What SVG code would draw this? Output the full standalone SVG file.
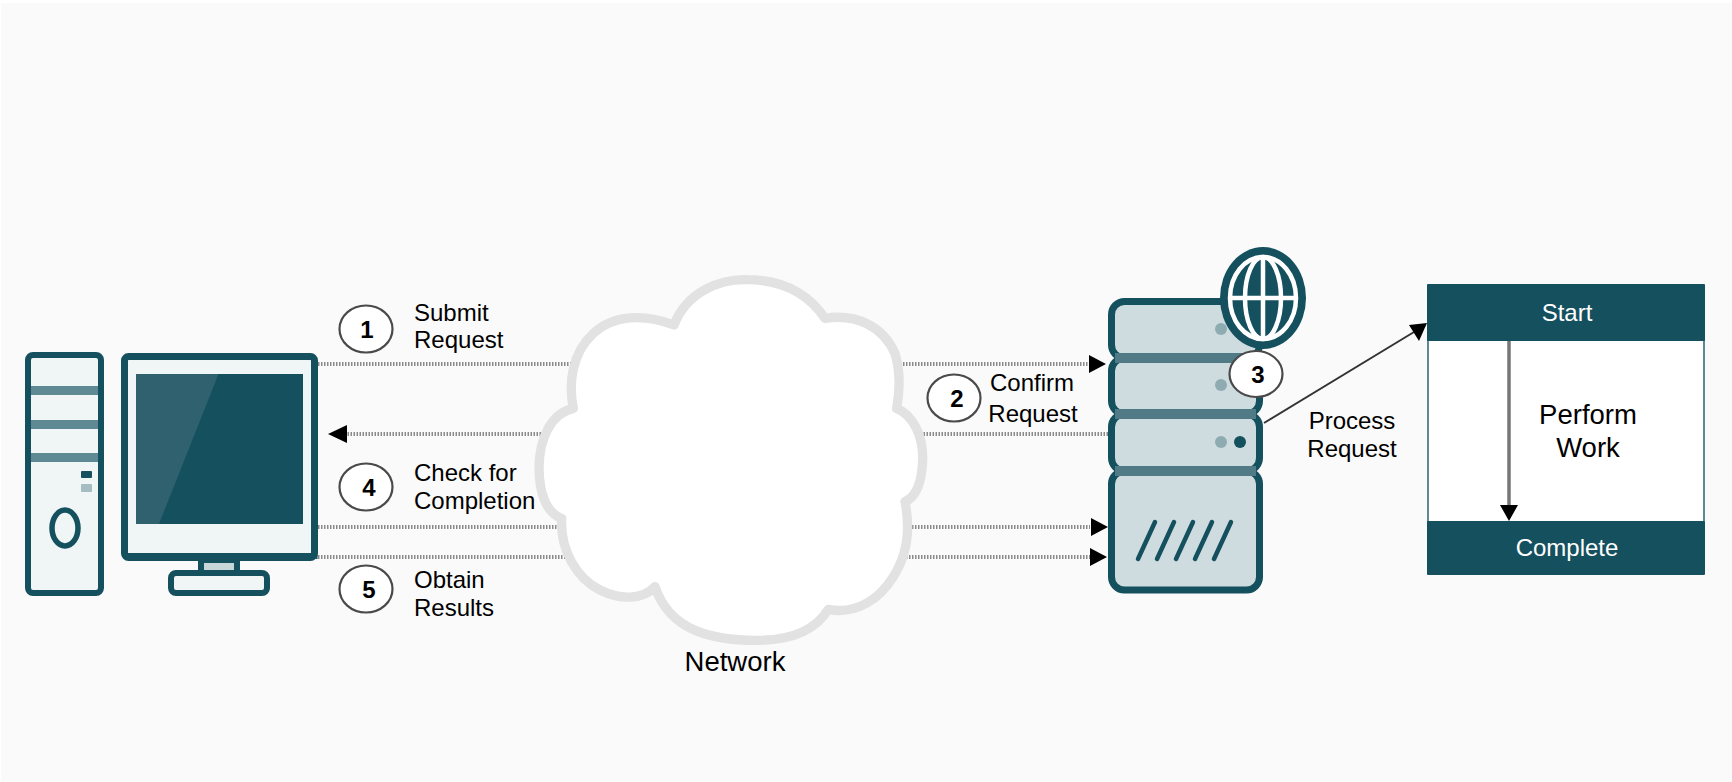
<svg xmlns="http://www.w3.org/2000/svg" width="1732" height="782" viewBox="0 0 1732 782">
<style>
text{font-family:"Liberation Sans",Arial,sans-serif;fill:#000}
.lbl{font-size:24px}
.big{font-size:27.5px}
.mid{text-anchor:middle}
.num{font-size:24px;font-weight:bold;text-anchor:middle}
.wht{fill:#fff;font-size:24px;text-anchor:middle}
.badge{fill:#fff;stroke:#4a4a4a;stroke-width:2.2}
.dot{fill:none;stroke:#8a8a8a;stroke-width:4;stroke-dasharray:1.5 1.5}
.dk{fill:#15505e}
.sv{fill:#cfdcdf;stroke:#15505e;stroke-width:7}
.band{fill:#4f7a86}
.lt{fill:#8fabb2}
</style>
<rect width="1732" height="782" fill="#fff"/>
<rect x="1" y="3" width="1731" height="779" fill="#fafafa"/>

<g id="connectors">
<path class="dot" d="M318 364H1090"/>
<path class="dot" d="M1108 434H345"/>
<path class="dot" d="M318 527H1090"/>
<path class="dot" d="M318 557H1090"/>
</g>

<g id="desktop">
<rect x="28" y="355" width="73" height="238" rx="5" fill="#f0f5f6" stroke="#15505e" stroke-width="6"/>
<rect x="31" y="386" width="67" height="9" fill="#5f8a94"/>
<rect x="31" y="420" width="67" height="9" fill="#5f8a94"/>
<rect x="31" y="453" width="67" height="9" fill="#5f8a94"/>
<rect x="81" y="471" width="11" height="7" rx="1" class="dk"/>
<rect x="81" y="484" width="11" height="8" rx="1" fill="#a5bcc2"/>
<ellipse cx="65" cy="528" rx="13" ry="18" fill="none" stroke="#15505e" stroke-width="5.5"/>
<rect x="198" y="560" width="42" height="13" class="dk"/>
<rect x="204" y="563" width="30" height="9" fill="#c9d6d9"/>
<rect x="171" y="573" width="96" height="20" rx="5" fill="#f0f5f6" stroke="#15505e" stroke-width="6"/>
<rect x="124.500" y="356.500" width="190" height="201" rx="4" fill="#f0f5f6" stroke="#15505e" stroke-width="7"/>
<rect x="128" y="553" width="183" height="3" class="dk"/>
<rect x="136" y="374" width="167" height="150" class="dk"/>
<path d="M136 374H218.500L159 524H136Z" fill="#2f626e"/>
</g>
<path class="dot" d="M259 557H318" style="stroke:#15505e"/>

<g id="arrowheads">
<path d="M328 434L347 425V443Z"/>
<path d="M1106 364L1089 355V373Z"/>
<path d="M1108 527L1091 518V536Z"/>
<path d="M1107 557L1090 548V566Z"/>
</g>

<g id="cloud">
<path transform="translate(530 250) scale(.33333)" fill="#fff" stroke="#e2e2e2" stroke-width="28" stroke-linejoin="round" d="M432 225C470 125 570 87 650 89C750 89 830 125 885 205C980 190 1060 230 1095 310C1110 360 1110 420 1100 475C1150 495 1180 560 1178 630C1176 690 1160 740 1125 755C1140 830 1135 910 1090 980C1050 1045 980 1095 895 1078C860 1135 790 1171 680 1171C550 1171 420 1145 375 1010C340 1050 270 1050 210 1020C140 985 90 900 95 805C50 790 27 730 27 650C29 570 60 490 130 475C115 400 125 310 190 250C250 195 340 190 432 225Z"/>
<text class="big mid" x="735" y="671">Network</text>
</g>

<g id="server">
<rect class="sv" x="1111.500" y="301.500" width="148" height="56.500" rx="13"/>
<rect class="sv" x="1111.500" y="358" width="148" height="56" rx="13"/>
<rect class="sv" x="1111.500" y="414" width="148" height="57" rx="13"/>
<rect class="sv" x="1111.500" y="471" width="148" height="119" rx="13"/>
<rect class="band" x="1115" y="353" width="141" height="10"/>
<rect class="band" x="1115" y="409" width="141" height="10"/>
<rect class="band" x="1115" y="466" width="141" height="10"/>
<circle class="lt" cx="1221" cy="329" r="6"/>
<circle class="lt" cx="1221" cy="385" r="6"/>
<circle class="lt" cx="1221" cy="442" r="6"/>
<circle class="dk" cx="1240" cy="442" r="6"/>
<path d="M1138 559L1155 522M1157 559L1174 522M1176 559L1193 522M1195 559L1212 522M1214 559L1231 522" fill="none" stroke="#15505e" stroke-width="4.500" stroke-linecap="round"/>
</g>

<g id="globe">
<ellipse cx="1263" cy="298" rx="43" ry="51" class="dk"/>
<g fill="none" stroke="#fff" stroke-width="4.500">
<ellipse cx="1263" cy="298" rx="33" ry="41"/>
<ellipse cx="1263" cy="298" rx="18" ry="41"/>
<path d="M1263 257V339M1230 298H1296"/>
</g>
</g>

<g id="step1"><ellipse class="badge" cx="366" cy="329" rx="26.500" ry="23.500"/><text class="num" x="367" y="338">1</text>
<text class="lbl" x="414" y="321">Submit</text><text class="lbl" x="414" y="348">Request</text></g>
<g id="step2"><ellipse class="badge" cx="954" cy="398" rx="26.500" ry="23.500"/><text class="num" x="957" y="407">2</text>
<text class="lbl mid" x="1032" y="391">Confirm</text><text class="lbl mid" x="1033" y="422">Request</text></g>
<g id="step3"><ellipse class="badge" cx="1256" cy="374" rx="26.500" ry="23"/><text class="num" x="1258" y="383">3</text></g>
<g id="step4"><ellipse class="badge" cx="366" cy="487" rx="26.500" ry="23.500"/><text class="num" x="369" y="496">4</text>
<text class="lbl" x="414" y="481">Check for</text><text class="lbl" x="414" y="509">Completion</text></g>
<g id="step5"><ellipse class="badge" cx="366" cy="589" rx="26.500" ry="23.500"/><text class="num" x="369" y="598">5</text>
<text class="lbl" x="414" y="588">Obtain</text><text class="lbl" x="414" y="616">Results</text></g>

<path d="M1264 423L1414 332" fill="none" stroke="#333" stroke-width="2"/>
<path d="M1427 323L1419 341L1409 325Z"/>
<text class="lbl mid" x="1352" y="429">Process</text><text class="lbl mid" x="1352" y="457">Request</text>

<g id="job">
<rect x="1428" y="340" width="276" height="182" fill="#fff" stroke="#5f8a94" stroke-width="2"/>
<rect x="1427" y="284" width="278" height="57" rx="1" class="dk"/>
<rect x="1427" y="521" width="278" height="54" rx="1" class="dk"/>
<path d="M1509 341V506" fill="none" stroke="#777" stroke-width="3.500"/>
<path d="M1509 521L1500 505H1518Z"/>
<text class="wht" x="1567" y="321">Start</text>
<text class="wht" x="1567" y="556">Complete</text>
<text class="big mid" x="1588" y="424">Perform</text>
<text class="big mid" x="1588" y="457">Work</text>
</g>
</svg>
